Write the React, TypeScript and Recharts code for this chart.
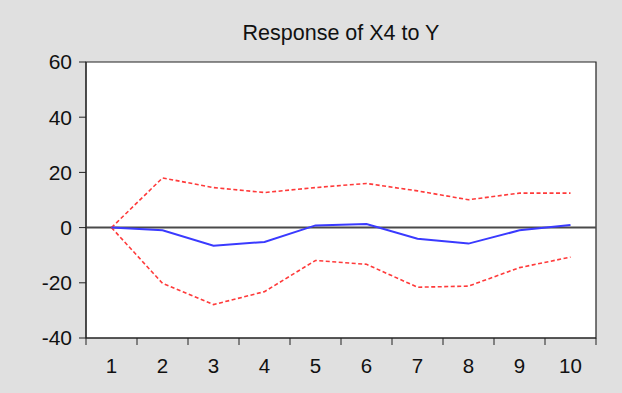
import {
  LineChart,
  Line,
  XAxis,
  YAxis,
  ReferenceLine,
  ReferenceArea,
} from 'recharts'

// impulse response periods and estimates
const periods = [1, 2, 3, 4, 5, 6, 7, 8, 9, 10]
const response = [0, -1.0, -6.6, -5.2, 0.8, 1.3, -4.0, -5.8, -1.0, 0.9]
const upperBand = [0, 18.0, 14.5, 12.7, 14.5, 16.0, 13.3, 10.1, 12.5, 12.5]
const lowerBand = [0, -20.2, -27.9, -23.2, -11.9, -13.3, -21.6, -21.2, -14.5, -10.7]
const yTicks = [-40, -20, 0, 20, 40, 60]
const bandEdges = [0.5, 1.5, 2.5, 3.5, 4.5, 5.5, 6.5, 7.5, 8.5, 9.5, 10.5]

const data = periods.map((p, i) => ({
  period: p,
  response: response[i],
  upper: upperBand[i],
  lower: lowerBand[i],
}))

const font = '"Liberation Sans", Arial, sans-serif'

export default function App() {
  return (
    <div style={{ position: 'relative', width: 622, height: 393, background: '#e0e0e0', fontFamily: font }}>
      <style>{'body { margin: 0; }'}</style>
      <div
        style={{
          position: 'absolute',
          left: 86,
          width: 510,
          top: 22,
          textAlign: 'center',
          fontSize: 21.5,
          lineHeight: '22px',
          color: '#111',
        }}
      >
        Response of X4 to Y
      </div>
      <LineChart width={622} height={393} data={data} margin={{ top: 62, right: 26, left: 0, bottom: 15 }}>
        {/* tick marks sit on the band edges, labels on the band centres */}
        <XAxis
          xAxisId="edges"
          type="number"
          dataKey="period"
          domain={[0.5, 10.5]}
          ticks={bandEdges}
          tickFormatter={() => ''}
          tickSize={7}
          height={1}
          stroke="#222"
          allowDataOverflow
        />
        <XAxis
          xAxisId="periods"
          type="number"
          dataKey="period"
          domain={[0.5, 10.5]}
          ticks={periods}
          tickLine={false}
          axisLine={false}
          tickSize={7}
          tickMargin={12}
          height={39}
          tick={{ fill: '#111', fontSize: 20.5, fontFamily: font }}
          allowDataOverflow
        />
        <YAxis
          type="number"
          domain={[-40, 60]}
          ticks={yTicks}
          width={86}
          tickSize={7}
          tickMargin={7}
          stroke="#222"
          tick={{ fill: '#111', fontSize: 21, fontFamily: font }}
          allowDataOverflow
        />
        <ReferenceArea
          xAxisId="periods"
          x1={0.5}
          x2={10.5}
          y1={-40}
          y2={60}
          fill="#ffffff"
          fillOpacity={1}
          stroke="#222"
          strokeWidth={1.2}
        />
        <ReferenceLine xAxisId="periods" y={0} stroke="#4a4a4a" strokeWidth={2} />
        <Line
          xAxisId="periods"
          type="linear"
          dataKey="upper"
          stroke="#ff3a3a"
          strokeWidth={1.6}
          strokeDasharray="4 2.5"
          dot={false}
          isAnimationActive={false}
        />
        <Line
          xAxisId="periods"
          type="linear"
          dataKey="lower"
          stroke="#ff3a3a"
          strokeWidth={1.6}
          strokeDasharray="4 2.5"
          dot={false}
          isAnimationActive={false}
        />
        <Line
          xAxisId="periods"
          type="linear"
          dataKey="response"
          stroke="#3a3aff"
          strokeWidth={2}
          dot={false}
          isAnimationActive={false}
        />
      </LineChart>
    </div>
  )
}
